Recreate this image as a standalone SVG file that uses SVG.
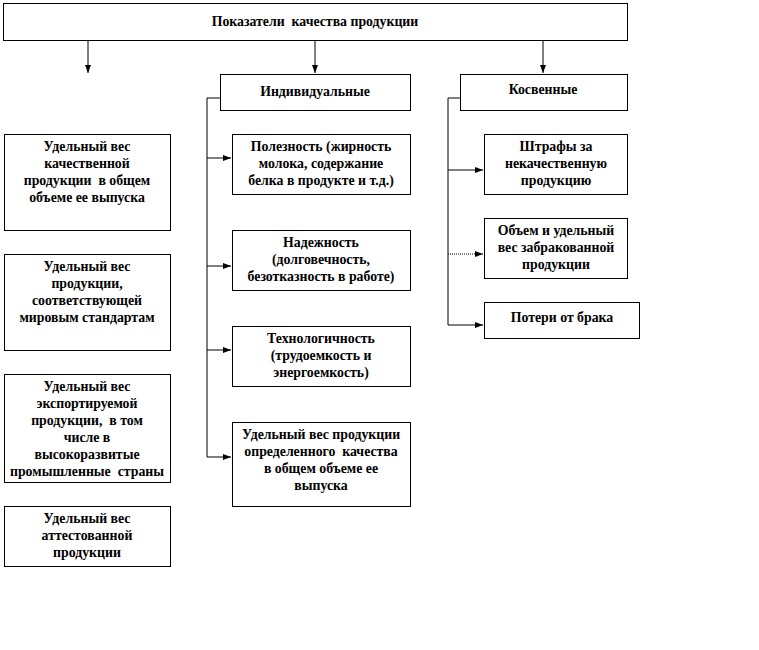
<svg xmlns="http://www.w3.org/2000/svg" width="759" height="650" viewBox="0 0 759 650">
<defs>
<style>
.box{fill:#fff;stroke:#000;stroke-width:1}
.t{font-family:"Liberation Serif","Times New Roman",serif;font-weight:bold;font-size:13.8px;fill:#000;text-anchor:middle;white-space:pre}
.c{fill:none;stroke:#000;stroke-width:1}
.d{fill:none;stroke:#000;stroke-width:1;stroke-dasharray:1 1}
</style>
<marker id="ah" viewBox="0 0 8 8" refX="8" refY="4" markerWidth="8" markerHeight="8" markerUnits="userSpaceOnUse" orient="auto">
<path d="M0,1 L8,4 L0,7 z" fill="#000"/>
</marker>
</defs>
<rect width="759" height="650" fill="#fff"/>

<g id="connectors">
<line class="c" x1="88" y1="40" x2="88" y2="73" marker-end="url(#ah)"/>
<line class="c" x1="315" y1="40" x2="315" y2="73" marker-end="url(#ah)"/>
<line class="c" x1="543" y1="40" x2="543" y2="73" marker-end="url(#ah)"/>
<polyline class="c" points="220,98 207,98 207,457 231,457" marker-end="url(#ah)"/>
<line class="c" x1="207" y1="158" x2="231" y2="158" marker-end="url(#ah)"/>
<line class="c" x1="207" y1="266" x2="231" y2="266" marker-end="url(#ah)"/>
<line class="c" x1="207" y1="350" x2="231" y2="350" marker-end="url(#ah)"/>
<polyline class="c" points="460,98 448,98 448,325 483,325" marker-end="url(#ah)"/>
<line class="c" x1="448" y1="170" x2="483" y2="170" marker-end="url(#ah)"/>
<line class="d" x1="448" y1="254" x2="483" y2="254" marker-end="url(#ah)"/>
</g>

<g id="n-top">
<rect class="box" x="3.5" y="3.5" width="624" height="37"/>
<text class="t" x="315" y="26" xml:space="preserve">Показатели  качества продукции</text>
</g>

<g id="n-ind">
<rect class="box" x="220.5" y="74.5" width="190" height="36"/>
<text class="t" x="315" y="96">Индивидуальные</text>
</g>

<g id="n-kos">
<rect class="box" x="460.5" y="74.5" width="167" height="36"/>
<text class="t" x="543" y="94">Косвенные</text>
</g>

<g id="n-l1">
<rect class="box" x="4.5" y="134.5" width="166" height="96"/>
<text class="t" x="87" y="151">Удельный вес</text>
<text class="t" x="87" y="168">качественной</text>
<text class="t" x="87" y="185" xml:space="preserve">продукции  в общем</text>
<text class="t" x="87" y="202">объеме ее выпуска</text>
</g>

<g id="n-l2">
<rect class="box" x="4.5" y="254.5" width="166" height="96"/>
<text class="t" x="87" y="271">Удельный вес</text>
<text class="t" x="87" y="288">продукции,</text>
<text class="t" x="87" y="305">соответствующей</text>
<text class="t" x="87" y="322">мировым стандартам</text>
</g>

<g id="n-l3">
<rect class="box" x="4.5" y="374.5" width="166" height="108"/>
<text class="t" x="87" y="391">Удельный вес</text>
<text class="t" x="87" y="408">экспортируемой</text>
<text class="t" x="87" y="425" xml:space="preserve">продукции,  в том</text>
<text class="t" x="87" y="442">числе в</text>
<text class="t" x="87" y="459">высокоразвитые</text>
<text class="t" x="87" y="476" xml:space="preserve">промышленные  страны</text>
</g>

<g id="n-l4">
<rect class="box" x="4.5" y="506.5" width="166" height="60"/>
<text class="t" x="87" y="523">Удельный вес</text>
<text class="t" x="87" y="540">аттестованной</text>
<text class="t" x="87" y="557">продукции</text>
</g>

<g id="n-i1">
<rect class="box" x="232.5" y="134.5" width="178" height="60"/>
<text class="t" x="321" y="151">Полезность (жирность</text>
<text class="t" x="321" y="168">молока, содержание</text>
<text class="t" x="321" y="185">белка в продукте и т.д.)</text>
</g>

<g id="n-i2">
<rect class="box" x="232.5" y="230.5" width="178" height="60"/>
<text class="t" x="321" y="247">Надежность</text>
<text class="t" x="321" y="264">(долговечность,</text>
<text class="t" x="321" y="281">безотказность в работе)</text>
</g>

<g id="n-i3">
<rect class="box" x="232.5" y="326.5" width="178" height="60"/>
<text class="t" x="321" y="343">Технологичность</text>
<text class="t" x="321" y="360">(трудоемкость и</text>
<text class="t" x="321" y="377">энергоемкость)</text>
</g>

<g id="n-i4">
<rect class="box" x="232.5" y="422.5" width="178" height="84"/>
<text class="t" x="321" y="439">Удельный вес продукции</text>
<text class="t" x="321" y="456" xml:space="preserve">определенного  качества</text>
<text class="t" x="321" y="473">в общем объеме ее</text>
<text class="t" x="321" y="490">выпуска</text>
</g>

<g id="n-k1">
<rect class="box" x="484.5" y="134.5" width="143" height="60"/>
<text class="t" x="556" y="151">Штрафы за</text>
<text class="t" x="556" y="168">некачественную</text>
<text class="t" x="556" y="185">продукцию</text>
</g>

<g id="n-k2">
<rect class="box" x="484.5" y="218.5" width="143" height="60"/>
<text class="t" x="556" y="235">Объем и удельный</text>
<text class="t" x="556" y="252">вес забракованной</text>
<text class="t" x="556" y="269">продукции</text>
</g>

<g id="n-k3">
<rect class="box" x="484.5" y="302.5" width="155" height="36"/>
<text class="t" x="562" y="322">Потери от брака</text>
</g>
</svg>
